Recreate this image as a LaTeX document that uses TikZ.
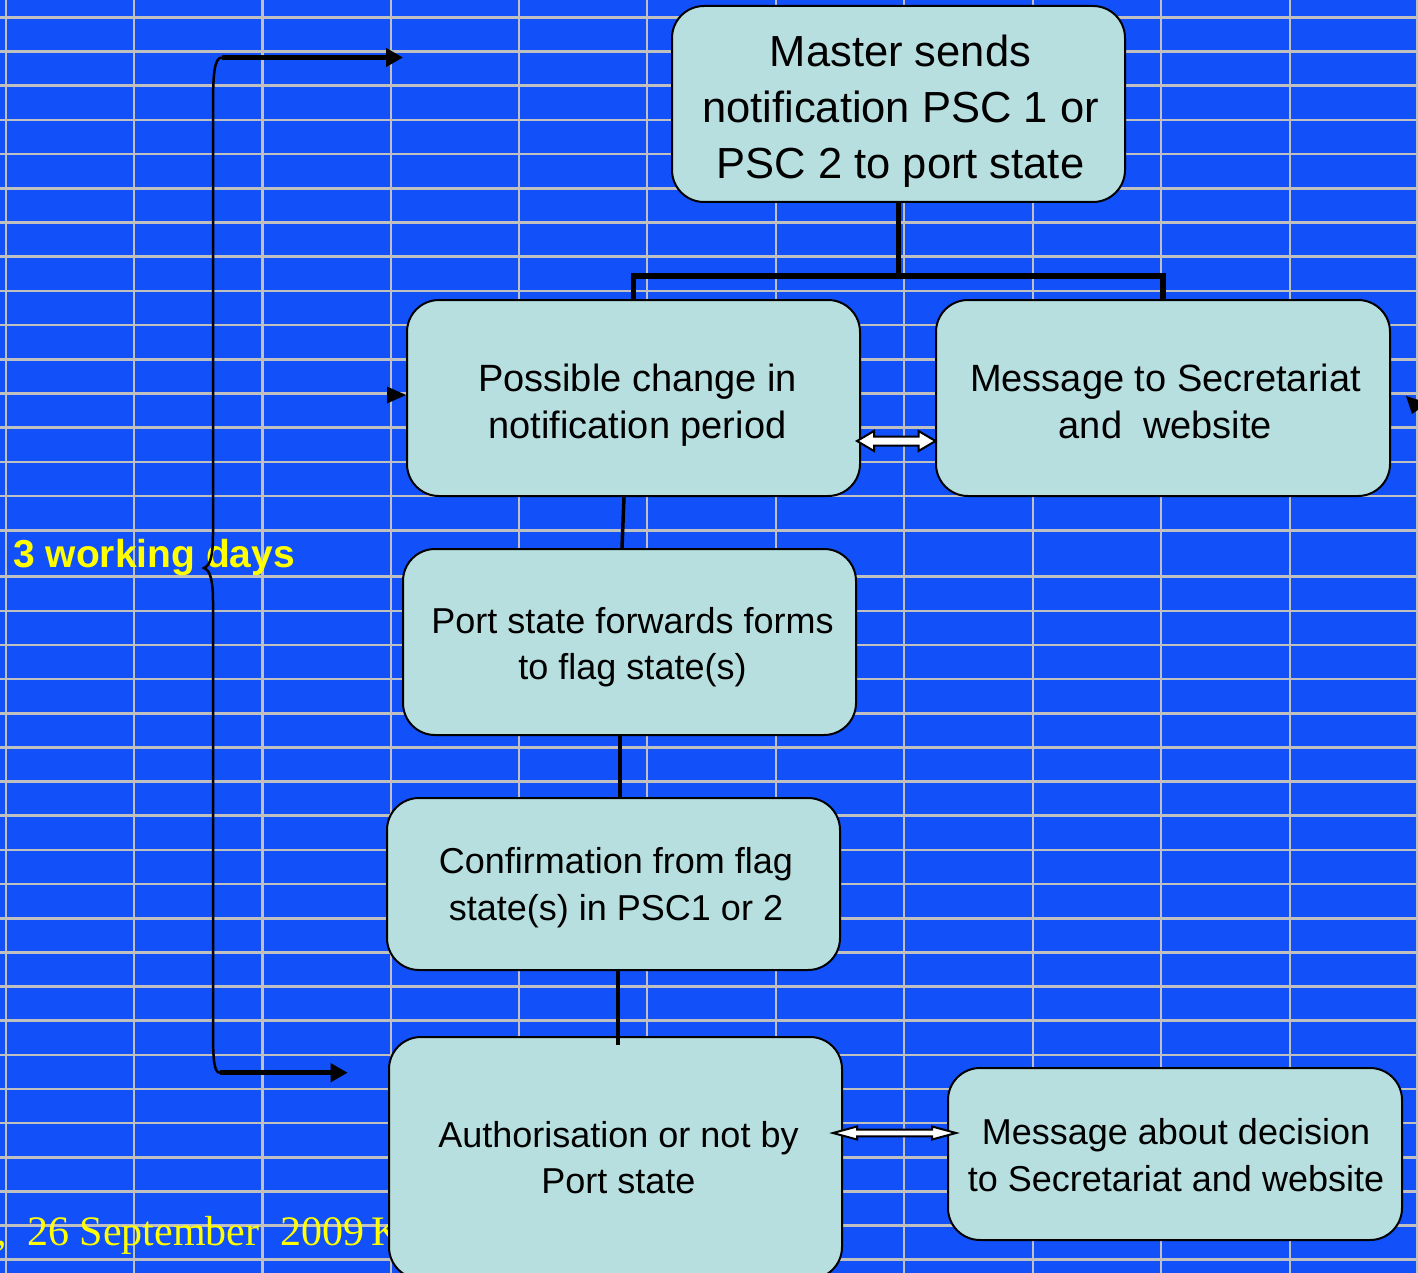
\documentclass[tikz,border=0pt]{standalone}
\usepackage{fontspec}
\setmainfont{Liberation Sans}
\newfontfamily\datefont{Liberation Serif}
\usetikzlibrary{arrows.meta,calc}
\definecolor{bgblue}{RGB}{18,80,250}
\definecolor{gridgray}{RGB}{192,192,192}
\definecolor{boxfill}{RGB}{184,223,224}
\definecolor{yel}{RGB}{255,255,0}
\newcommand{\fatboth}[5]{%
  \draw[fat] let \p1=(#1), \p2=(#2) in
    (\x1,\y1) -- ({\x1+#5pt},{\y1+#3pt}) -- ({\x1+#5pt},{\y1+#4pt}) -- ({\x2-#5pt},{\y1+#4pt})
    -- ({\x2-#5pt},{\y1+#3pt}) -- (\x2,\y1) -- ({\x2-#5pt},{\y1-#3pt}) -- ({\x2-#5pt},{\y1-#4pt})
    -- ({\x1+#5pt},{\y1-#4pt}) -- ({\x1+#5pt},{\y1-#3pt}) -- cycle;}
\begin{document}
\begin{tikzpicture}[x=1pt,y=-1pt,
  gridline/.style={draw=gridgray, line width=2.6pt},
  box/.style={draw=black, line width=2pt, fill=boxfill, rounded corners=32pt, inner sep=0pt},
  big/.style={font=\fontsize{43.5}{56}\selectfont, align=center},
  mid/.style={font=\fontsize{38}{47}\selectfont, align=center},
  small/.style={font=\fontsize{36}{46.5}\selectfont, align=center},
  tree/.style={line width=5.5pt, line join=miter},
  link/.style={line width=3.5pt},
  fat/.style={draw=black, fill=white, line width=2pt, line join=miter},
  brace/.style={line width=2.5pt},
  bracearrow/.style={line width=4.5pt, -{Triangle[length=17pt,width=18pt]}},
  yeltext/.style={text=yel, inner sep=0pt, anchor=base west}]
\fill[bgblue] (0,0) rectangle (1418,1273);
\useasboundingbox (0,0) rectangle (1418,1273);
\clip (0,0) rectangle (1418,1273);
% grid
\foreach \x in {6,134,262.3,391,519,647,776,904,1033,1161,1290,1417}
  \draw[gridline] (\x,0) -- (\x,1273);
\foreach \k in {0,...,15}
  \draw[gridline] (0,{17.3+34.2*\k}) -- (1418,{17.3+34.2*\k});
\foreach \k in {0,...,20}
  \draw[gridline] (0,{576.7+34.15*\k}) -- (1418,{576.7+34.15*\k});
% yellow texts
\node[yeltext, font=\datefont\fontsize{42}{50}\selectfont] (date) at (27,1245) {\llap{g,\hspace{20pt}}26 September~~2009\hspace{7pt}K};
\node[yeltext, font=\bfseries\fontsize{39}{47}\selectfont] (days) at (13,567) {3 working days};
% boxes
\node[box, minimum width=453pt, minimum height=196pt,
  label={[big, shift={(2pt,-7pt)}]center:Master sends\\notification PSC 1 or\\PSC 2 to port state}] (master) at (898.5,104) {};
\node[box, minimum width=453pt, minimum height=196pt,
  label={[mid, shift={(4pt,-7pt)}]center:Possible change in\\notification period}] (change) at (633.5,398) {};
\node[box, minimum width=454pt, minimum height=196pt,
  label={[mid, shift={(2.5pt,-3pt)}]center:Message to Secretariat\\and~~website}] (msgA) at (1163,398) {};
\node[box, minimum width=453pt, minimum height=186pt,
  label={[small, shift={(3pt,-5pt)}]center:Port state forwards forms\\to flag state(s)}] (forward) at (629.5,642) {};
\node[box, minimum width=453pt, minimum height=172pt,
  label={[small, shift={(2.5pt,-3.5pt)}]center:Confirmation from flag\\state(s) in PSC1 or 2}] (confirm) at (613.5,884) {};
\node[box, minimum width=453pt, minimum height=242pt,
  label={[small, shift={(3pt,0.5pt)}]center:Authorisation or not by\\Port state}] (auth) at (615.5,1158) {};
\node[box, minimum width=454pt, minimum height=172pt,
  label={[small, shift={(1pt,-1pt)}]center:Message about decision\\to Secretariat and website}] (msgB) at (1175,1154) {};
% tree connectors
\coordinate (bar) at (898.5,276);
\draw[tree] (master.south) -- (bar);
\draw[tree] (change.north) |- (bar) -| (msgA.north);
% vertical links
\draw[link] ([xshift=-9.5pt]change.south) -- ([xshift=-7.5pt]forward.north);
\draw[link] ([xshift=-9.5pt]forward.south) -- ([xshift=6.5pt,yshift=-2pt]confirm.north);
\draw[link] ([xshift=4.5pt]confirm.south) -- ([xshift=2.5pt,yshift=-9pt]auth.north);
% double arrows
\coordinate (dA1) at ([xshift=-4pt,yshift=-43pt]change.east);
\coordinate (dA2) at ([xshift=0.5pt,yshift=-43pt]msgA.west);
\fatboth{dA1}{dA2}{10}{4.5}{17}
\coordinate (dB1) at ([xshift=-10pt,yshift=25pt]auth.east);
\coordinate (dB2) at ([xshift=9pt,yshift=21pt]msgB.west);
\fatboth{dB1}{dB2}{6.5}{3.3}{24}
% small arrow heads
\coordinate (tipA) at ([yshift=3pt]change.west);
\fill (tipA) -- ++(-19,-8.5) -- ++(0,17) -- cycle;
\coordinate (tipB) at (1406,396);
\fill (tipB) -- (1428,403) -- (1412,414) -- cycle;
% brace
\coordinate (bt) at (222,57.5);
\coordinate (bb) at (220,1072.7);
\coordinate (btip) at (204,568);
\coordinate (atop) at (403,57.5);
\coordinate (abot) at (347.7,1072.7);
\draw[brace] (bt) .. controls (214,57.5) and (213,75) .. (213,110) -- (213,535)
  .. controls (213,556) and (210,566) .. (btip)
  .. controls (210,570) and (213,580) .. (213,601) -- (213,1030)
  .. controls (213,1060) and (214,1072.7) .. (bb);
\draw[bracearrow] (bt) -- (atop);
\draw[bracearrow] (bb) -- (abot);
\end{tikzpicture}
\end{document}
